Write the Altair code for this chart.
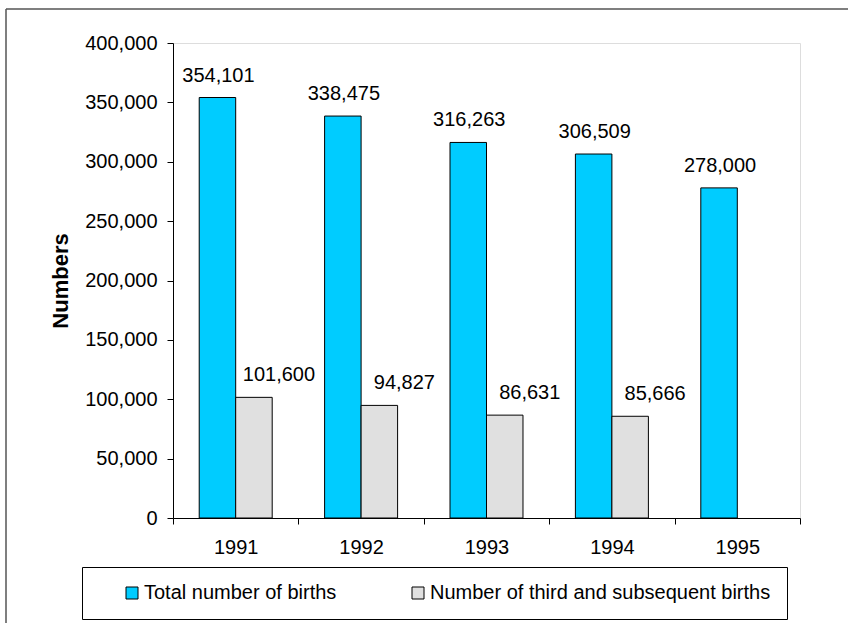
import altair as alt
import pandas as pd

years = ["1991", "1992", "1993", "1994", "1995"]
total_births = [354101, 338475, 316263, 306509, 278000]
third_births = [101600, 94827, 86631, 85666, None]
series = ["Total number of births", "Number of third and subsequent births"]
colors = ["#00CCFF", "#E0E0E0"]
y_ticks = [0, 50000, 100000, 150000, 200000, 250000, 300000, 350000, 400000]

rows = []
for i, yr in enumerate(years):
    rows.append({"year": yr, "series": series[0], "value": total_births[i]})
    if third_births[i] is not None:
        rows.append({"year": yr, "series": series[1], "value": third_births[i]})
df = pd.DataFrame(rows)

FONT = "Liberation Sans"
W, H = 627, 475

x_enc = alt.X("year:N", sort=years, title=None,
              scale=alt.Scale(domain=years, paddingInner=0, paddingOuter=0),
              axis=alt.Axis(labelAngle=0, tickBand="extent", tickSize=6, labelPadding=13,
                            labelFontSize=20, labelFont=FONT, labelColor="black",
                            domainColor="black", tickColor="black"))
xoff_enc = alt.XOffset("series:N", sort=series,
                       scale=alt.Scale(domain=series, paddingInner=0, paddingOuter=0.718))
y_enc = alt.Y("value:Q", title="Numbers",
              scale=alt.Scale(domain=[0, 400000], nice=False),
              axis=alt.Axis(values=y_ticks, format=",.0f", tickSize=6, labelPadding=10,
                            labelFontSize=20, labelFont=FONT, labelColor="black",
                            domainColor="black", tickColor="black", grid=False,
                            titleFontSize=22, titleFont=FONT, titleFontWeight="bold",
                            titleColor="black", titleAngle=270, titleX=-113, titleY=237.5,
                            titleBaseline="middle", titleAlign="center"))

bars = alt.Chart(df).mark_bar(stroke="black", strokeWidth=1).encode(
    x=x_enc,
    xOffset=xoff_enc,
    y=y_enc,
    color=alt.Color("series:N", sort=series,
                    scale=alt.Scale(domain=series, range=colors),
                    legend=alt.Legend(title=None, orient="none", direction="horizontal",
                                      columns=2, legendX=-91, legendY=524,
                                      padding=16, symbolOffset=24, columnPadding=47,
                                      symbolType="square", symbolSize=144,
                                      symbolStrokeColor="black", symbolStrokeWidth=1,
                                      labelFontSize=20, labelFont=FONT, labelColor="black",
                                      labelOffset=2, labelLimit=500,
                                      strokeColor="black", fillColor="white")),
)

text_total = alt.Chart(df).transform_filter(
    alt.datum.series == series[0]
).mark_text(fontSize=20, font=FONT, color="black", baseline="alphabetic", dy=-16, dx=1).encode(
    x=x_enc,
    xOffset=xoff_enc,
    y=y_enc,
    text=alt.Text("value:Q", format=","),
)

text_third = alt.Chart(df).transform_filter(
    alt.datum.series == series[1]
).mark_text(fontSize=20, font=FONT, color="black", baseline="alphabetic", dy=-16, dx=25).encode(
    x=x_enc,
    xOffset=xoff_enc,
    y=y_enc,
    text=alt.Text("value:Q", format=","),
)

one = alt.Data(values=[{"a": 1}])
frame_left = alt.Chart(one).mark_rule(color="#555555", strokeWidth=1.5).encode(
    x=alt.value(-167), y=alt.value(-34), y2=alt.value(700))
frame_top = alt.Chart(one).mark_rule(color="#555555", strokeWidth=1.5).encode(
    x=alt.value(-167), x2=alt.value(800), y=alt.value(-34))

chart = alt.layer(bars, text_total, text_third, frame_left, frame_top).properties(
    width=W, height=H,
    autosize=alt.AutoSizeParams(type="none"),
    padding={"left": 173, "top": 43, "right": 48, "bottom": 105},
    background="white",
).configure_view(
    stroke="#808080", strokeWidth=1
).configure(font=FONT)

chart.save("out.html", embed_options={"renderer": "svg", "actions": False})
